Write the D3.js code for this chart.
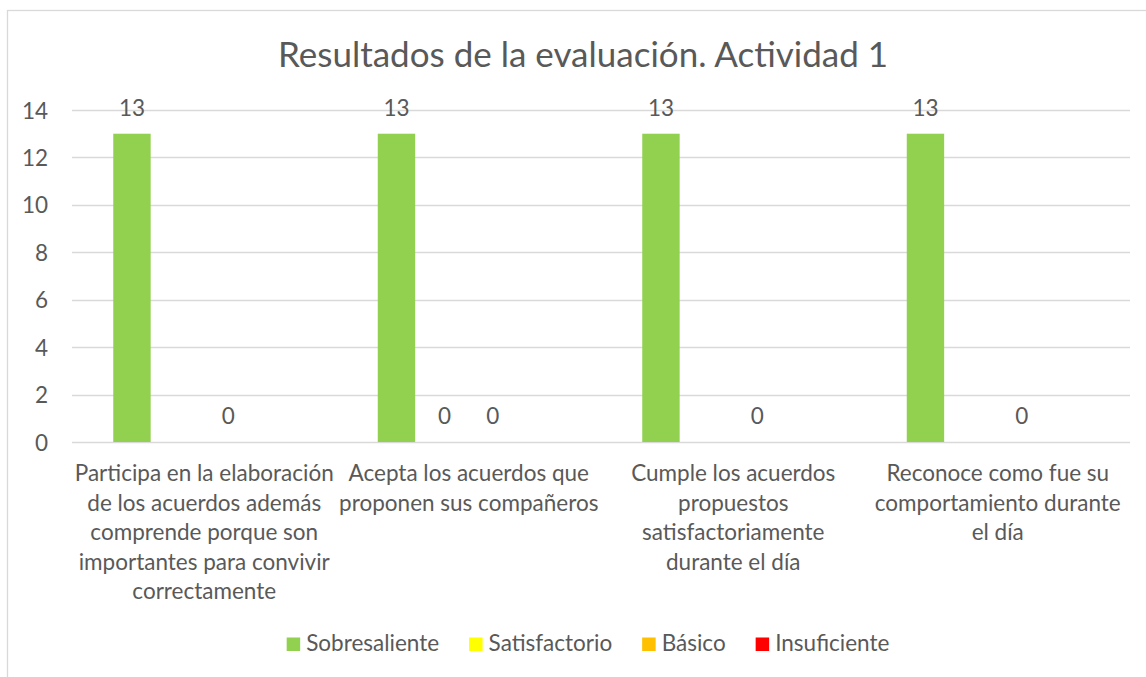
<!DOCTYPE html>
<html>
<head>
<meta charset="utf-8">
<script src="https://cdn.jsdelivr.net/npm/d3@7"></script>
<style>
  html, body { margin: 0; padding: 0; background: #ffffff; }
  svg { display: block; }
  text { font-family: Lato, "Open Sans", sans-serif; fill: #595959; }
</style>
</head>
<body>
<svg id="chart" width="1146" height="677"></svg>
<script>
// ---- data ----
const title = "Resultados de la evaluación. Actividad 1";
const categories = [
  "Participa en la elaboración de los acuerdos además comprende porque son importantes para convivir correctamente",
  "Acepta los acuerdos que proponen sus compañeros",
  "Cumple los acuerdos propuestos satisfactoriamente durante el día",
  "Reconoce como fue su comportamiento durante el día"
];
const categoryLines = [
  ["Participa en la elaboración", "de los acuerdos además", "comprende porque son", "importantes para convivir", "correctamente"],
  ["Acepta los acuerdos que", "proponen sus compañeros"],
  ["Cumple los acuerdos", "propuestos", "satisfactoriamente", "durante el día"],
  ["Reconoce como fue su", "comportamiento durante", "el día"]
];
const seriesNames = ["Sobresaliente", "Satisfactorio", "Básico", "Insuficiente"];
const seriesColors = ["#92D050", "#FFFF00", "#FFC000", "#FF0000"];
const sobresaliente = [13, 13, 13, 13];
const satisfactorio = [null, 0, null, null];
const basico = [0, 0, 0, 0];
const insuficiente = [null, null, null, null];
const yTicks = [0, 2, 4, 6, 8, 10, 12, 14];

const seriesValues = [sobresaliente, satisfactorio, basico, insuficiente];

// ---- layout ----
const svg = d3.select("#chart");
const plot = { left: 72, right: 1130, top: 110, bottom: 442 };

// chart border
svg.append("rect")
  .attr("x", 7.5).attr("y", 10.5)
  .attr("width", 1160).attr("height", 700)
  .attr("fill", "none").attr("stroke", "#d9d9d9").attr("stroke-width", 1.3);

const y = d3.scaleLinear().domain([0, 14]).range([plot.bottom, plot.top]);
const x0 = d3.scaleBand().domain(categories).range([plot.left, plot.right]).paddingInner(0).paddingOuter(0);
const x1 = d3.scaleBand().domain(seriesNames).range([0, x0.bandwidth()])
  .paddingInner(0.224).paddingOuter(0.856);

// gridlines
svg.append("g").selectAll("line").data(yTicks).join("line")
  .attr("x1", plot.left).attr("x2", plot.right)
  .attr("y1", d => Math.round(y(d)) + 0.5).attr("y2", d => Math.round(y(d)) + 0.5)
  .attr("stroke", "#d9d9d9").attr("stroke-width", 1.3);

// y axis labels
const yAxis = d3.axisLeft(y).tickValues(yTicks).tickSize(0).tickPadding(0);
const gy = svg.append("g").attr("transform", `translate(48,0)`).call(yAxis);
gy.select(".domain").remove();
gy.selectAll("text").attr("font-size", 22.5).attr("fill", "#595959")
  .style("font-family", "Lato, sans-serif").attr("dy", "0.36em");

// bars
seriesNames.forEach((s, si) => {
  const vals = seriesValues[si];
  const data = categories.map((c, ci) => ({ c, v: vals[ci] })).filter(d => d.v !== null);
  svg.append("g").selectAll("rect").data(data).join("rect")
    .attr("x", d => x0(d.c) + x1(s))
    .attr("width", x1.bandwidth())
    .attr("y", d => y(d.v))
    .attr("height", d => y(0) - y(d.v))
    .attr("fill", seriesColors[si]);
  svg.append("g").selectAll("text").data(data).join("text")
    .attr("x", d => x0(d.c) + x1(s) + x1.bandwidth() / 2)
    .attr("y", d => y(d.v) - 17.7)
    .attr("text-anchor", "middle")
    .attr("font-size", 22.5)
    .text(d => d.v);
});

// category labels
const catG = svg.append("g");
categories.forEach((c, ci) => {
  const cx = x0(c) + x0.bandwidth() / 2;
  categoryLines[ci].forEach((line, li) => {
    catG.append("text")
      .attr("x", cx)
      .attr("y", 481 + li * 29.5)
      .attr("text-anchor", "middle")
      .attr("font-size", 22.5)
      .text(line);
  });
});

// title
svg.append("text")
  .attr("x", 583).attr("y", 67)
  .attr("text-anchor", "middle")
  .attr("font-size", 35)
  .text(title);

// legend
const legend = svg.append("g");
const items = seriesNames.map((s, i) => {
  const g = legend.append("g");
  g.append("rect").attr("x", 0).attr("y", 637.5).attr("width", 13.5).attr("height", 13.5).attr("fill", seriesColors[i]);
  const t = g.append("text").attr("x", 19.5).attr("y", 651).attr("font-size", 22.5).text(s);
  return { g, w: 19.5 + t.node().getComputedTextLength() };
});
const gap = 30;
const total = d3.sum(items, d => d.w) + gap * (items.length - 1);
let lx = 588 - total / 2;
items.forEach(it => { it.g.attr("transform", `translate(${lx},0)`); lx += it.w + gap; });
</script>
</body>
</html>
